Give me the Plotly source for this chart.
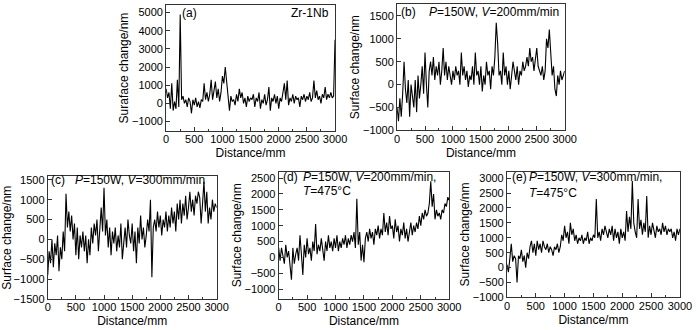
import numpy as np
import plotly.graph_objects as go

# ---------------- data ----------------
ya = [800, 300, 600, -300, 1100, -400, 100, -300, 1300, -200, 4900, 200, 400, 0, 200, -200, 300, 100, -550, 200,
      -100, 300, -200, 100, -250, 200, 100, 1100, 200, 600, 100, 500, 1300, 200, 700, 1200, 300, 800, 100, 600,
      1500, 1100, 2000, 1200, 300, -400, 400, 100, 200, -100, 500, 100, 800, 300, 600, 0, 300, -200, 400, 100,
      300, 200, 500, -200, 300, 100, 600, -300, 200, 0, 500, -100, 200, 900, -400, 300, 100, 500, 0, 400,
      -300, 300, 100, 500, 1100, 200, 1250, -100, 300, 100, 500, 0, 400, 200, 300, -200, 400, 200, 500, 100,
      400, 200, 600, 100, 300, 1250, 300, 700, 200, 400, 0, 500, 300, 900, 200, 500, 300, 600, 300, 400, 3500]

yb = [-500, -800, -300, -700, -200, 500, -100, -400, 100, -700, 0, -300, -500, 100, -600, 200, -300, 0, 400, -200,
      700, 0, -500, 300, 500, 200, 600, 100, 400, 200, 500, 0, 300, 800, 200, 500, 100, 400, 200, 0,
      300, 100, 400, 200, 300, 0, 700, 200, 400, 100, 300, -50, 200, 100, 400, 0, 700, 200, 300, 0,
      400, -150, 200, 0, 500, 200, 300, -100, 400, 200, 600, 1350, 900, 200, 300, 0, 700, 200, 400, 0,
      300, -100, 200, 500, 300, 100, 400, 0, 300, 200, 500, 300, 400, 600, 400, 800, 500, 600, 300, 500,
      800, 400, 300, 200, 400, 100, 300, 1000, 800, 1200, 700, 200, 400, -100, -250, 200, 0, 300, 100, 200, 300]

yc = [-900, -300, -600, 0, -700, -100, -400, 100, -800, -200, -500, 200, -300, 1150, 300, 700, 200, 600, 0, 400,
      -400, 300, -500, 100, -200, 200, -300, 100, -600, 0, -400, 300, -100, 400, 100, 500, -300, 400, 800, 200,
      1300, 100, 500, -200, 300, -400, 200, -100, 300, -300, 100, -200, 400, -500, 0, 300, -200, 500, 100, -100,
      400, -300, 200, -600, 300, -100, 600, 0, 300, -200, 100, 500, 200, 1000, -950, 300, 500, 200, 700, 300,
      600, 100, 500, 300, 700, 200, 600, 300, 800, 400, 700, 200, 900, 500, 1000, 400, 900, 600, 1100, 500,
      800, 1200, 700, 1000, 600, 1100, 900, 1200, 1050, 400, 900, 1450, 700, 1200, 400, 800, 500, 1000, 700, 900, 800]

yd = [300, -100, 300, 100, -200, 400, 0, 200, -300, -700, 300, -200, 100, 300, -100, 700, 100, -550, 400, 0,
      600, 100, 300, -100, 500, 200, 1050, 100, 400, 200, 600, 300, -100, 500, 200, 700, 300, 500, 200, 600,
      300, 700, 200, 500, 300, 600, 400, 700, 300, 600, 400, 700, 500, 800, 300, 1850, 400, 800, -100, 400,
      -150, 600, 800, 500, 900, 600, 800, 400, 900, 700, 1000, 600, 900, 700, 1400, 800, 1100, 700, 1300, 900,
      1000, 600, 1200, 800, 1000, 500, 900, 700, 1100, 600, 900, 500, 800, 1100, 700, 1000, 800, 1100, 900, 1300,
      1000, 1400, 1200, 1500, 1300, 1400, 1700, 2400, 1600, 2000, 1200, 1500, 1300, 1400, 1200, 1500, 1400, 1700, 1600, 1900, 1800]

ye = [100, -150, 300, 800, 200, 400, 300, -500, 400, 300, 600, 200, 400, 0, 500, 300, 700, 900, 500, 800,
      400, 900, 600, 800, 500, 900, 700, 600, 800, 500, 700, 600, 400, 700, 600, 800, 500, 700, 1100, 900,
      1400, 1000, 1200, 800, 1500, 1100, 1300, 900, 1100, 800, 1000, 900, 1100, 800, 1000, 900, 1200, 800, 1000, 900,
      1100, 1000, 2300, 1000, 1200, 900, 1300, 1100, 1400, 1200, 1000, 1300, 1100, 1400, 900, 1300, 1000, 1200, 800, 1300,
      1000, 1200, 900, 1900, 1200, 1700, 1300, 2900, 1500, 1200, 1000, 2300, 1300, 1600, 1100, 1500, 1200, 2400, 1000, 1400,
      1100, 1500, 1300, 1000, 1400, 1200, 1300, 1100, 1500, 1200, 1400, 1100, 1300, 1200, 1300, 1000, 1200, 900, 1300, 1100, 1300]

x_ticks = [0, 500, 1000, 1500, 2000, 2500, 3000]
x_ticklabels = ["0", "500", "1000", "1500", "2000", "2500", "3000"]

panels = [
    dict(y=ya, yr=[-1530, 5420], dt=1000, yt="Suraface change/nm", box=(166.7, 339.3, 2, 131.7)),
    dict(y=yb, yr=[-1000, 1760], dt=500, yt="Surface change/nm", box=(402.7, 574.0, 1, 131)),
    dict(y=yc, yr=[-1500, 1585], dt=500, yt="Surface change/nm", box=(45.7, 218.3, 178.3, 304.3)),
    dict(y=yd, yr=[-1310, 2705], dt=500, yt="Surface change/nm", box=(281.7, 456.0, 173.3, 304.3)),
    dict(y=ye, yr=[-1000, 3220], dt=500, yt="Surface change/nm", box=(515.0, 691.7, 173.3, 302.7)),
]

W, H = 700, 330
FONT = "Liberation Sans, Arial, sans-serif"

def px_x(v):
    return v / W

def px_y(v):
    return 1 - v / H

fig = go.Figure()

for i, p in enumerate(panels, start=1):
    xs = np.linspace(0, 3000, len(p["y"]))
    sfx = "" if i == 1 else str(i)
    fig.add_trace(go.Scatter(x=xs, y=p["y"], mode="lines", line=dict(color="black", width=1.1),
                             xaxis="x" + sfx, yaxis="y" + sfx, showlegend=False, hoverinfo="skip"))
    l, r, t, b = p["box"]
    axcommon = dict(showgrid=False, zeroline=False, showline=True, linecolor="#333", linewidth=1,
                    mirror=True, ticks="inside", ticklen=4, tickcolor="#333",
                    tickfont=dict(family=FONT, size=11, color="black"))
    fig.layout["xaxis" + sfx] = dict(domain=[px_x(l), px_x(r)], anchor="y" + sfx, range=[0, 3000],
                                     tickvals=x_ticks, ticktext=x_ticklabels, ticklabelstandoff=-2,
                                     minor=dict(ticks="inside", ticklen=2, dtick=250, tick0=0, tickcolor="#333"),
                                     title=dict(text="Distance/mm", font=dict(family=FONT, size=12, color="black"),
                                                standoff=4),
                                     **axcommon)
    fig.layout["yaxis" + sfx] = dict(domain=[px_y(b), px_y(t)], anchor="x" + sfx, range=p["yr"],
                                     dtick=p["dt"], tick0=0,
                                     title=dict(text=p["yt"], font=dict(family=FONT, size=12, color="black"),
                                                standoff=0),
                                     **axcommon)

ann_font = dict(family=FONT, size=12, color="black")
def note(xpx, ypx, text, xanchor="left"):
    fig.add_annotation(xref="paper", yref="paper", x=px_x(xpx), y=px_y(ypx), text=text, showarrow=False,
                       xanchor=xanchor, yanchor="middle", font=ann_font, align="left", borderpad=0)

note(182, 10, "(a)")
note(334, 10, "Zr-1Nb", xanchor="right")
note(406, 9, "(b)")
note(569, 9, "<i>P</i>=150W, <i>V</i>=200mm/min", xanchor="right")
note(48, 182, "(c)")
note(73, 182, "<i>P</i>=150W, <i>V</i>=300mm/min")
note(285, 179, "(d)")
note(306, 179, "<i>P</i>=150W, <i>V</i>=200mm/min,")
note(306, 193, "<i>T</i>=475°C")
note(519, 179, "(e)")
note(537, 179, "<i>P</i>=150W, <i>V</i>=300mm/min,")
note(537, 195, "<i>T</i>=475°C")

fig.update_layout(width=W, height=H, margin=dict(l=0, r=0, t=0, b=0), paper_bgcolor="white",
                  plot_bgcolor="white", font=dict(family=FONT, color="black"))
fig.write_html("out.html", config={"displayModeBar": False, "staticPlot": True},
               post_script="document.body.style.margin='0px';document.body.style.overflow='hidden';")
